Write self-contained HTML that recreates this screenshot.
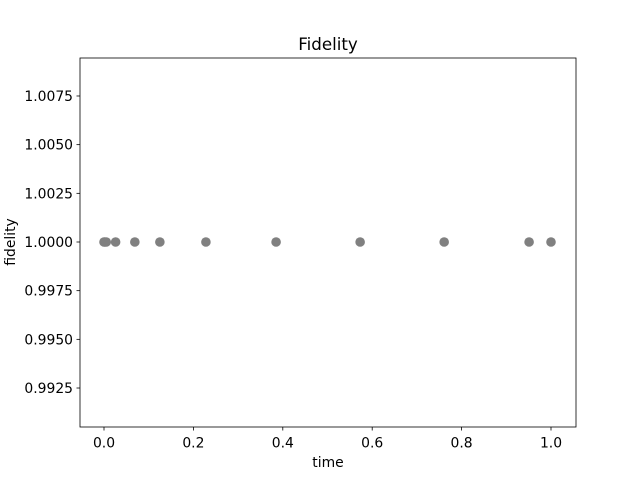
<!DOCTYPE html>
<html><head><meta charset="utf-8"><style>
body{margin:0;background:#fff;font-family:"DejaVu Sans","Liberation Sans",sans-serif}
svg text{font-family:"DejaVu Sans","Liberation Sans",sans-serif}
</style></head><body>
<svg id="chart" width="640" height="480" xmlns="http://www.w3.org/2000/svg" style="display:block">
<rect width="640" height="480" fill="#fff"/>
<text x="328" y="50" font-size="16.7" text-anchor="middle">Fidelity</text>
<text x="328" y="467" font-size="13.9" text-anchor="middle">time</text>
<text transform="translate(15,242) rotate(-90)" font-size="13.9" text-anchor="middle">fidelity</text>
<g id="ticks"></g>
<g id="points"></g>
<rect x="80" y="58" width="496" height="369" fill="none" stroke="#000" stroke-width="0.8"/>
</svg>
<script>
const timeValues=[0,0.002,0.005,0.026,0.069,0.125,0.228,0.385,0.573,0.761,0.951,1.0];
const fidelityValues=[1,1,1,1,1,1,1,1,1,1,1,1];
const xTicks=[0,0.2,0.4,0.6,0.8,1.0];
const xTickLabels=["0.0","0.2","0.4","0.6","0.8","1.0"];
const yTicks=[0.9925,0.995,0.9975,1.0,1.0025,1.005,1.0075];
const yTickLabels=["0.9925","0.9950","0.9975","1.0000","1.0025","1.0050","1.0075"];
const NS="http://www.w3.org/2000/svg";
function xs(v){return 104+v*447;}
function ys(v){return 242-(v-1)/0.0025*48.67;}
const tg=document.getElementById('ticks');
function mk(t,a,p){const e=document.createElementNS(NS,t);for(const k in a)e.setAttribute(k,a[k]);p.appendChild(e);return e;}
xTicks.forEach((v,i)=>{
 const l=mk('line',{x1:xs(v),x2:xs(v),y1:427,y2:430.5,stroke:'#000','stroke-width':0.8},tg);
 
 
 const t=mk('text',{x:xs(v),y:447.5,'font-size':13.9,'text-anchor':'middle'},tg);
 
 
 t.textContent=xTickLabels[i];
});
yTicks.forEach((v,i)=>{
 const l=mk('line',{x1:76.5,x2:80,y1:ys(v),y2:ys(v),stroke:'#000','stroke-width':0.8},tg);
 
 
 const t=mk('text',{x:73,y:ys(v)+5,'font-size':13.9,'text-anchor':'end'},tg);
 
 
 t.textContent=yTickLabels[i];
});
const pg=document.getElementById('points');
timeValues.forEach((v,i)=>{
 const c=mk('circle',{cx:xs(v),cy:ys(fidelityValues[i]),r:4.8,fill:'#808080'},pg);
 
 
});
</script>
</body></html>
